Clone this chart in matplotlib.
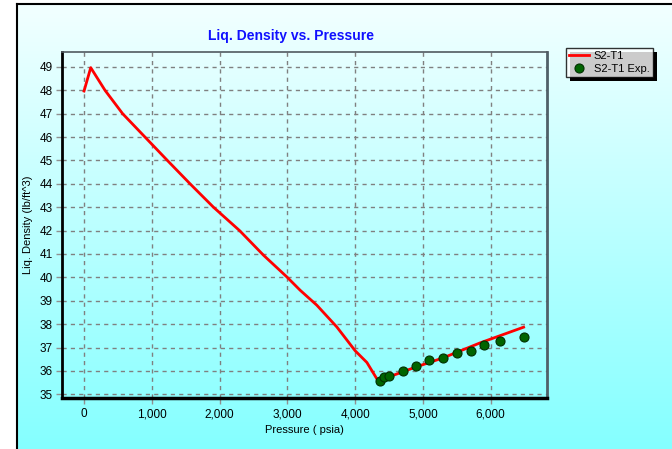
import numpy as np
import matplotlib
matplotlib.use("Agg")
import matplotlib.pyplot as plt
from matplotlib.lines import Line2D
from matplotlib.ticker import FuncFormatter

# ---- data ----
calc_pressure = [0, 99, 310, 570, 900, 1230, 1565, 1910, 2295, 2647, 2992, 3188, 3434,
                 3729, 4000, 4173, 4320, 4345, 4900, 5300, 5845, 6485]
calc_density = [47.97, 48.97, 48.0, 47.0, 46.0, 45.0, 44.0, 43.0, 42.0, 40.95, 40.02,
                39.45, 38.81, 37.88, 36.86, 36.36, 35.66, 35.58, 36.17, 36.56, 37.20, 37.87]
exp_pressure = [4359, 4418, 4506, 4703, 4900, 5092, 5299, 5500, 5702, 5904, 6140, 6494]
exp_density = [35.57, 35.72, 35.78, 35.98, 36.20, 36.47, 36.55, 36.78, 36.87, 37.11, 37.27, 37.45]
x_ticks = [0, 1000, 2000, 3000, 4000, 5000, 6000]
y_ticks = list(range(35, 50))

W, H = 672, 449
fig = plt.figure(figsize=(W / 100, H / 100), dpi=100)
fig.patch.set_facecolor("white")

# gradient background inside frame
fl, ft = 17, 4
bg = fig.add_axes([fl / W, 0, 1 - fl / W, 1 - ft / H])
grad = np.linspace(0, 1, 256)[:, None]
top = np.array([0.95, 1.0, 1.0])
bot = np.array([0.52, 1.0, 1.0])
img = top[None, None, :] * (1 - grad[:, :, None]) + bot[None, None, :] * grad[:, :, None]
bg.imshow(img, aspect="auto", extent=[0, 1, 0, 1], origin="upper")
bg.set_axis_off()
bg.set_zorder(0)

# frame lines
fig.add_artist(Line2D([fl / W, fl / W], [0, 1 - ft / H], transform=fig.transFigure,
                      color="black", lw=1.5))
fig.add_artist(Line2D([fl / W, 1], [1 - ft / H, 1 - ft / H], transform=fig.transFigure,
                      color="black", lw=1.5))

# plot axes
L, R, T, B = 62, 547, 52, 398
ax = fig.add_axes([L / W, 1 - B / H, (R - L) / W, (B - T) / H])
ax.set_zorder(1)
ax.patch.set_alpha(0)

ax.plot(calc_pressure, calc_density, color="#ff0000", lw=2, label="S2-T1", zorder=3)
ax.plot(exp_pressure, exp_density, linestyle="none", marker="o", ms=6.5,
        markerfacecolor="#006400", markeredgecolor="#003000", markeredgewidth=0.8,
        label="S2-T1 Exp.", zorder=4)

ax.set_xlim(-325, 6830)
ax.set_ylim(34.84, 49.64)
ax.set_xticks(x_ticks)
ax.set_yticks(y_ticks)
ax.xaxis.set_major_formatter(FuncFormatter(lambda v, p: f"{int(v):,}"))
ax.grid(True, color="#808080", linestyle=(0, (3, 3)), lw=1)
ax.tick_params(axis="both", colors="#909090", length=4, width=1, labelsize=8.5,
               labelcolor="black", direction="out")
ax.tick_params(axis="y", pad=2.5)
for lab in ax.get_xticklabels() + ax.get_yticklabels():
    lab.set_family("Liberation Sans")

ax.spines["left"].set_color("black")
ax.spines["left"].set_linewidth(2)
ax.spines["bottom"].set_color("black")
ax.spines["bottom"].set_linewidth(2.5)
ax.spines["top"].set_color("#505a60")
ax.spines["top"].set_linewidth(1.2)
ax.spines["right"].set_color("#506068")
ax.spines["right"].set_linewidth(2)

ax.set_xlabel("Pressure ( psia)", fontsize=8, family="Liberation Sans", labelpad=3)
ax.set_ylabel("Liq. Density (lb/ft^3)", fontsize=8, family="Liberation Sans")
ax.yaxis.set_label_coords((33 - L) / (R - L), 0.5)

fig.text(291 / W, 1 - 36 / H, "Liq. Density vs. Pressure", color="#1010ff",
         fontsize=10, fontweight="bold",
         family=["Liberation Sans Narrow", "Liberation Sans"],
         ha="center", va="center")

# legend
handles, labels = ax.get_legend_handles_labels()
leg = fig.legend(handles=handles, labels=labels,
                 loc="upper left", bbox_to_anchor=(566 / W, 1 - 48 / H),
                 frameon=True, fancybox=False, shadow=False,
                 handlelength=1.8, handletextpad=0.4, borderpad=0.3,
                 labelspacing=0.2, borderaxespad=0,
                 prop={"family": "Liberation Sans", "size": 8})
leg.get_frame().set_edgecolor("black")
leg.get_frame().set_linewidth(1)
leg.get_frame().set_facecolor("white")
leg.set_zorder(5)
fig.canvas.draw()
bb = leg.get_window_extent()
fig.patches.append(plt.Rectangle((bb.x0 + 4, bb.y0 - 4), bb.width, bb.height,
                                 transform=None, facecolor="black", zorder=4.5,
                                 figure=fig))

fig.savefig("out.png", dpi=100)
